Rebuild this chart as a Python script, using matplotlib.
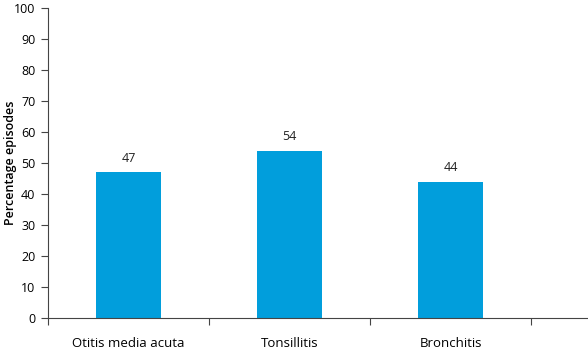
import matplotlib.pyplot as plt
import numpy as np

plt.rcParams['font.family'] = ['Open Sans', 'DejaVu Sans']

categories = ['Otitis media acuta', 'Tonsillitis', 'Bronchitis']
values = [47, 54, 44]

fig = plt.figure(figsize=(5.88, 3.5), dpi=100)
ax = fig.add_axes([48 / 588, 32 / 350, 540 / 588, 310 / 350])

x = np.arange(len(categories))
bars = ax.bar(x, values, width=0.4, color='#019EDC')

# Value labels above each bar
for xi, v in zip(x, values):
    ax.text(xi, v + 2.5, str(v), ha='center', va='bottom', fontsize=9, color='#222222')

ax.set_xlim(-0.5, 2.854)
ax.set_ylim(0, 100)
ax.set_yticks(range(0, 101, 10))
ax.tick_params(axis='y', labelsize=9, length=5, width=0.8, color='#444444', pad=4)

# Category names centred, ticks on the boundaries between categories
ax.set_xticks(x)
ax.set_xticklabels(categories, fontsize=9.5)
ax.tick_params(axis='x', which='major', length=0, pad=14)
ax.set_xticks([-0.5, 0.5, 1.5, 2.5], minor=True)
ax.tick_params(axis='x', which='minor', length=5, width=0.8, color='#444444')

ax.set_ylabel('Percentage episodes', fontsize=9, fontweight='semibold')
ax.yaxis.set_label_coords(-0.058, 0.5)

for side in ['top', 'right']:
    ax.spines[side].set_visible(False)
for side in ['left', 'bottom']:
    ax.spines[side].set_color('#444444')
    ax.spines[side].set_linewidth(0.8)

plt.savefig('out.png', dpi=100)
plt.close()
